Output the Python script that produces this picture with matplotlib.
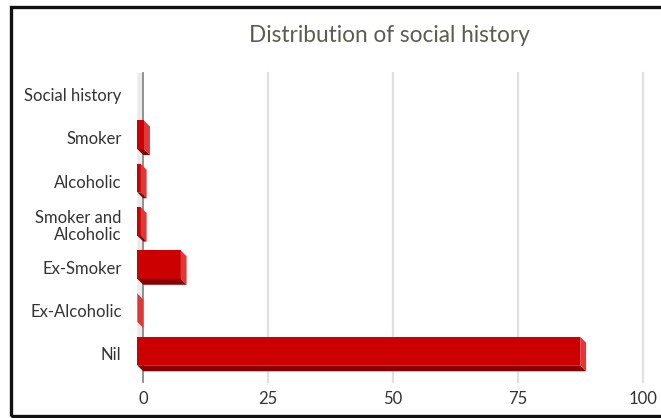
import numpy as np
import matplotlib.pyplot as plt
import matplotlib.transforms as mtransforms
from matplotlib.patches import Polygon, Rectangle

plt.rcParams['font.family'] = 'Lato'

categories = ['Social history', 'Smoker', 'Alcoholic', 'Smoker and\nAlcoholic',
              'Ex-Smoker', 'Ex-Alcoholic', 'Nil']
percent = [np.nan, 1.33, 0.67, 0.67, 8.67, 0.0, 88.67]
xticks = [0, 25, 50, 75, 100]

W, H = 661, 418
fig = plt.figure(figsize=(W / 100, H / 100), dpi=100)
ax = fig.add_axes([136.8 / W, 1 - 372 / H, 510.9 / W, (372 - 73) / H])
ax.set_xlim(-1.3, 101)
ax.set_ylim(6.486, -0.428)

# 3D look: front face is shifted left/up from the back plane
dx, dy = 1.2, 0.139
bh = 0.66
y_top, y_tick = -0.428, 6.717

# side wall
ax.add_patch(Polygon([(-dx, y_top), (0, y_top), (0, 6.486), (-dx, 6.347)],
                     closed=True, facecolor='#ebebeb', edgecolor='none', zorder=1))

for x in xticks[1:]:
    ax.plot([x, x], [y_top, y_tick], color='#e0e0e0', lw=1.6, clip_on=False, zorder=1.5)
ax.plot([0, 0], [y_top, y_tick], color='#8a8a8a', lw=1.3, clip_on=False, zorder=2)

for i, v in enumerate(percent):
    if np.isnan(v):
        continue
    ax.barh(i, v, left=-dx, height=bh, color='#cc0000', zorder=3)
    side = [(v - dx, i - bh / 2), (v, i - bh / 2 + dy), (v, i + bh / 2 + dy), (v - dx, i + bh / 2)]
    bottom = [(-dx, i + bh / 2), (v - dx, i + bh / 2), (v, i + bh / 2 + dy), (0, i + bh / 2 + dy)]
    ax.add_patch(Polygon(side, closed=True, facecolor='#dc3a3a', edgecolor='none', zorder=3))
    ax.add_patch(Polygon(bottom, closed=True, facecolor='#8a0000', edgecolor='none', zorder=3))

ax.set_xticks(xticks)
ax.set_xticklabels([str(t) for t in xticks], fontsize=12, color='#333333')
ax.set_yticks(range(len(categories)))
ax.set_yticklabels(categories, fontsize=12, color='#333333', linespacing=1.1)
ax.tick_params(axis='x', length=0, pad=14)
ax.tick_params(axis='y', length=0, pad=11)
shift = mtransforms.ScaledTranslation(0, -3 / 100, fig.dpi_scale_trans)
for lbl in ax.get_yticklabels():
    lbl.set_transform(lbl.get_transform() + shift)
for s in ax.spines.values():
    s.set_visible(False)

fig.text(389 / W, 1 - 35 / H, 'Distribution of social history', ha='center', va='center',
         fontsize=16.3, color='#5c5c52')

# outer frame
fig.patches.append(Rectangle((10.5 / W, 1 - 415.5 / H), 700 / W, (415.5 - 7) / H,
                             transform=fig.transFigure, fill=False, edgecolor='#111111',
                             lw=2.4, clip_on=False))

fig.savefig('out.png', dpi=100)
